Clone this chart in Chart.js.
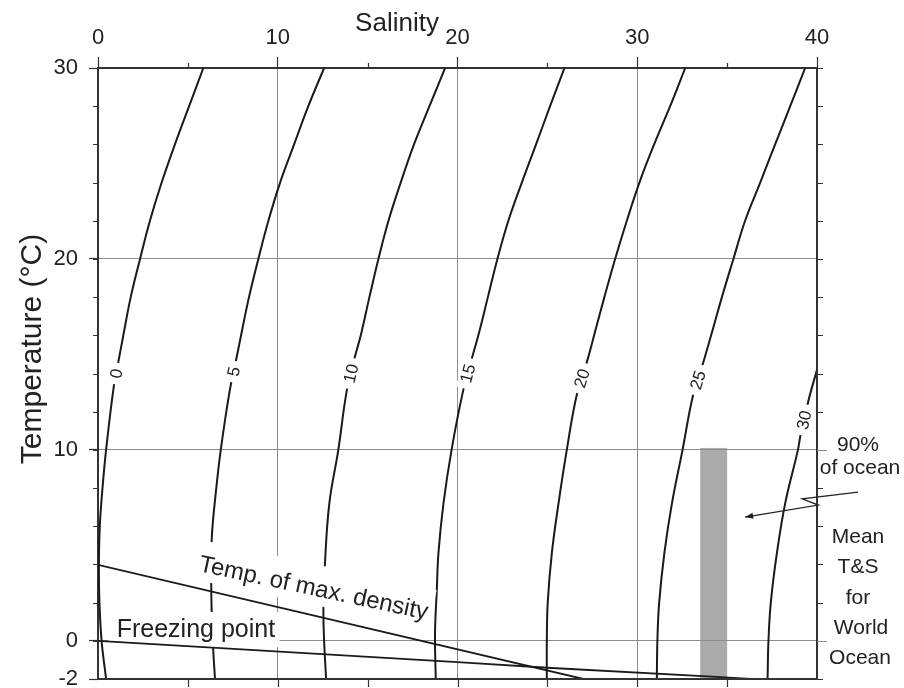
<!DOCTYPE html>
<html><head><meta charset="utf-8">
<script src="https://cdn.jsdelivr.net/npm/chart.js@4.4.1/dist/chart.umd.min.js"></script>
<style>html,body{margin:0;padding:0;background:#fff;}#wrap{width:904px;height:688px;}</style>
</head><body><div id="wrap"><canvas id="c" width="904" height="688"></canvas></div>
<script>
// ---------- DATA ----------
// Sigma-t isopleths: salinity (S) at each temperature (T, °C)
const sigmaLevels = ['0','5','10','15','20','25','30'];
const sig0_T  = [30,28,26,24,22,20,18,16,14.6,13.4,10,8,6,4,2,0,-2];
const sig0_S  = [5.86,5.07,4.28,3.54,2.89,2.34,1.82,1.41,1.13,0.89,0.45,0.25,0.10,0.05,0.08,0.20,0.45];
const sig5_T  = [30,28,26,24,22,20,18,16,14.6,13,10,7.9,5.4,3.1,1.7,-0.3,-2];
const sig5_S  = [12.58,11.70,10.91,10.13,9.48,8.92,8.40,7.96,7.66,7.31,6.83,6.57,6.33,6.30,6.32,6.40,6.51];
const sig10_T = [30,28,26,24,22,20,18,16,14.9,13.1,10,7.2,4.1,1.7,0,-2];
const sig10_S = [19.31,18.44,17.58,16.84,16.16,15.60,15.10,14.62,14.30,13.84,13.37,12.87,12.63,12.54,12.58,12.69];
const sig15_T = [30,28,26,24,22,20,18,16,14.6,13,10,7.2,4.6,2.7,0.4,-2];
const sig15_S = [25.95,25.15,24.37,23.58,22.83,22.22,21.69,21.16,20.74,20.29,19.67,19.22,18.94,18.85,18.75,18.79];
const sig20_T = [30,28,26,24,22,20,18,16,14.7,12.9,10,7.2,4.6,2,0,-2];
const sig20_S = [32.67,31.83,30.94,30.12,29.42,28.77,28.17,27.60,27.23,26.64,26.08,25.62,25.25,25.02,24.97,24.97];
const sig25_T = [30,28,26,24,22,20,18,16,14.6,12.8,10,7.2,4.6,2,0,-2];
const sig25_S = [39.34,38.51,37.67,36.84,36.00,35.35,34.71,34.11,33.68,33.09,32.52,31.93,31.51,31.22,31.12,31.09];
const sig30_T = [14.2,12.6,10.7,10,7.2,4.6,2,0,-2];
const sig30_S = [40.0,39.53,39.07,38.94,38.23,37.77,37.43,37.30,37.25];
// Temperature at which each isopleth label sits
const labelT = [14.0,14.1,14.0,14.0,13.75,13.66,11.57];
// Temperature of maximum density and freezing point lines
const tmd_S = [0,12.5,27.0];
const tmd_T = [3.98,1.21,-2.0];
const frz_S = [0,20,25,34.4,36.3];
const frz_T = [0,-1.12,-1.41,-1.89,-2.0];
// Mean T&S box for world ocean (90% of ocean)
const box_S = [33.5,35.0];
const box_T = [-2,10.1];
// Arrow pointing at the box
const arrow_S = [42.28,39.18,40.07,36.0];
const arrow_T = [7.79,7.43,7.11,6.48];
// Axis ticks
const xTickLabels = [0,10,20,30,40];
const xGrid = [10,20,30];
const xMinor = [5,15,25,35];
const yTickLabels = [-2,0,10,20,30];
const yGrid = [0,10,20];
const yMinor = [-2,0,2,4,6,8,10,12,14,16,18,20,22,24,26,28,30];

// ---------- CHART ----------
const FONT = '"Liberation Sans", Arial, Helvetica, sans-serif';
const INK = '#1a1a1a';
const curvesT = [sig0_T,sig5_T,sig10_T,sig15_T,sig20_T,sig25_T,sig30_T];
const curvesS = [sig0_S,sig5_S,sig10_S,sig15_S,sig20_S,sig25_S,sig30_S];
const pts = (S,T) => S.map((s,i)=>({x:s,y:T[i]}));

const datasets = curvesS.map((S,i)=>({
  label:'σt '+sigmaLevels[i], data:pts(S,curvesT[i]), order:2,
  borderColor:INK, borderWidth:2, pointRadius:0, tension:0.4, showLine:true, fill:false
}));
datasets.push({label:'Temp. of max. density', data:pts(tmd_S,tmd_T), order:0,
  borderColor:INK, borderWidth:1.8, pointRadius:0, tension:0, showLine:true});
datasets.push({label:'Freezing point', data:pts(frz_S,frz_T), order:0,
  borderColor:INK, borderWidth:1.8, pointRadius:0, tension:0, showLine:true});

function interpS(S,T,t){
  for(let i=0;i<T.length-1;i++){
    const a=T[i], b=T[i+1];
    if((t<=a && t>=b)||(t>=a && t<=b)){ const f=(t-a)/(b-a); return S[i]+f*(S[i+1]-S[i]); }
  }
  return S[S.length-1];
}

let masked=false;
function drawMasksAndLabels(chart){
  const {ctx, scales:{x,y}} = chart;
  ctx.save();
  // contour labels
  ctx.font = '17px '+FONT;
  curvesS.forEach((S,i)=>{
    const T=curvesT[i], t=labelT[i];
    const px=x.getPixelForValue(interpS(S,T,t)), py=y.getPixelForValue(t);
    const p1x=x.getPixelForValue(interpS(S,T,t+0.8)), p1y=y.getPixelForValue(t+0.8);
    const p2x=x.getPixelForValue(interpS(S,T,t-0.8)), p2y=y.getPixelForValue(t-0.8);
    const ang=Math.atan2(p1y-p2y,p1x-p2x);
    const w=ctx.measureText(sigmaLevels[i]).width;
    ctx.save(); ctx.translate(px,py); ctx.rotate(ang);
    ctx.fillStyle='#fff'; ctx.fillRect(-w/2-6,-8,w+12,16);
    ctx.fillStyle='#222'; ctx.textAlign='center'; ctx.textBaseline='middle';
    ctx.fillText(sigmaLevels[i],0,1);
    ctx.restore();
  });
  // Freezing point text
  ctx.font='25px '+FONT;
  const fx=116.7, fy=637;
  const fw=ctx.measureText('Freezing point').width;
  ctx.fillStyle='#fff'; ctx.fillRect(fx-8.5,fy-25,fw+13,35);
  ctx.fillStyle='#222'; ctx.textAlign='left'; ctx.textBaseline='alphabetic';
  ctx.fillText('Freezing point',fx,fy);
  // Temp. of max. density text
  ctx.font='24px '+FONT;
  const tw=ctx.measureText('Temp. of max. density').width;
  ctx.save(); ctx.translate(198,571); ctx.rotate(12*Math.PI/180);
  ctx.fillStyle='#fff'; ctx.fillRect(-4,-31,tw+8,40);
  ctx.fillStyle='#222'; ctx.fillText('Temp. of max. density',0,0);
  ctx.restore();
  ctx.restore();
}

const figPlugin = {
  id:'fig',
  beforeDraw(chart){
    masked=false;
    const {ctx, scales:{x,y}} = chart;
    ctx.save(); ctx.fillStyle='#aaaaaa';
    const x0=x.getPixelForValue(box_S[0]), x1=x.getPixelForValue(box_S[1]);
    const y0=y.getPixelForValue(box_T[1]), y1=y.getPixelForValue(box_T[0]);
    ctx.fillRect(x0,y0,x1-x0,y1-y0); ctx.restore();
  },
  beforeDatasetDraw(chart,args){
    if(masked || chart.data.datasets[args.index].order!==0) return;
    masked=true; drawMasksAndLabels(chart);
  },
  afterDraw(chart){
    const {ctx, chartArea:a, scales:{x,y}} = chart;
    ctx.save();
    ctx.strokeStyle='#333'; ctx.lineWidth=2;
    ctx.beginPath(); ctx.moveTo(a.right,a.top-1); ctx.lineTo(a.right,a.bottom+1);
    ctx.moveTo(a.left-1,a.bottom); ctx.lineTo(a.right+1,a.bottom); ctx.stroke();
    ctx.lineWidth=1.2;
    ctx.beginPath();
    yMinor.forEach(v=>{ const py=Math.round(y.getPixelForValue(v))+0.5;
      ctx.moveTo(a.left-5,py); ctx.lineTo(a.left,py);
      ctx.moveTo(a.right,py); ctx.lineTo(a.right+6,py); });
    xMinor.forEach(v=>{ const px=Math.round(x.getPixelForValue(v))+0.5;
      ctx.moveTo(px,a.top-5); ctx.lineTo(px,a.top); });
    xMinor.concat(xGrid).forEach(v=>{ const px=Math.round(x.getPixelForValue(v))+0.5;
      ctx.moveTo(px,a.bottom); ctx.lineTo(px,a.bottom+8); });
    ctx.stroke();
    // gridline extensions to the right
    ctx.strokeStyle='#8c8c8c'; ctx.lineWidth=1; ctx.beginPath();
    [0,10].forEach(v=>{ const py=Math.round(y.getPixelForValue(v))+0.5;
      ctx.moveTo(a.right,py); ctx.lineTo(a.right+10,py); });
    ctx.stroke();
    // arrow
    ctx.strokeStyle='#222'; ctx.lineWidth=1.3; ctx.beginPath();
    arrow_S.forEach((s,i)=>{ const px=x.getPixelForValue(s), py=y.getPixelForValue(arrow_T[i]);
      i?ctx.lineTo(px,py):ctx.moveTo(px,py); });
    ctx.stroke();
    const n=arrow_S.length;
    const ex=x.getPixelForValue(arrow_S[n-1]), ey=y.getPixelForValue(arrow_T[n-1]);
    const bx=x.getPixelForValue(arrow_S[n-2]), by=y.getPixelForValue(arrow_T[n-2]);
    const ang=Math.atan2(ey-by,ex-bx);
    ctx.fillStyle='#222'; ctx.beginPath();
    ctx.moveTo(ex,ey);
    ctx.lineTo(ex-8*Math.cos(ang)+3*Math.sin(ang), ey-8*Math.sin(ang)-3*Math.cos(ang));
    ctx.lineTo(ex-8*Math.cos(ang)-3*Math.sin(ang), ey-8*Math.sin(ang)+3*Math.cos(ang));
    ctx.closePath(); ctx.fill();
    // right-hand notes
    ctx.fillStyle='#222'; ctx.font='21px '+FONT; ctx.textAlign='center'; ctx.textBaseline='middle';
    [['90%',858,445],['of ocean',860,468],['Mean',858,537],['T&S',858,567],['for',858,598],['World',861,628],['Ocean',860,658]]
      .forEach(([t,px,py])=>ctx.fillText(t,px,py));
    // axis titles
    ctx.font='26px '+FONT; ctx.textBaseline='alphabetic';
    ctx.fillText('Salinity',397,31);
    ctx.save(); ctx.translate(41,349); ctx.rotate(-Math.PI/2);
    ctx.font='30px '+FONT; ctx.fillText('Temperature (°C)',0,0);
    ctx.restore();
    ctx.restore();
  }
};

const noPad = s => { s.paddingTop=0; s.paddingBottom=0; s.paddingLeft=0; s.paddingRight=0; };

new Chart(document.getElementById('c'), {
  type:'scatter',
  data:{datasets},
  options:{
    responsive:false, animation:false, devicePixelRatio:1,
    layout:{padding:{left:0,top:0,right:87,bottom:9}},
    plugins:{legend:{display:false}, tooltip:{enabled:false}, title:{display:false}},
    scales:{
      x:{type:'linear', position:'top', min:0, max:40,
        afterBuildTicks:s=>{ s.ticks = xTickLabels.map(v=>({value:v})); },
        afterFit:s=>{ s.height=68; noPad(s); },
        ticks:{font:{family:FONT,size:22}, color:'#222', padding:6, autoSkip:false, maxRotation:0, callback:v=>String(v)},
        grid:{color:c=>xGrid.includes(c.tick && c.tick.value)?'#8c8c8c':'rgba(0,0,0,0)', lineWidth:1, tickLength:11, tickColor:'#333', tickWidth:1.2},
        border:{display:true, color:'#333', width:2}
      },
      y:{type:'linear', position:'left', min:-2, max:30,
        afterBuildTicks:s=>{ s.ticks = yTickLabels.map(v=>({value:v})); },
        afterFit:s=>{ s.width=98; noPad(s); },
        ticks:{font:{family:FONT,size:22}, color:'#222', padding:11, autoSkip:false, callback:v=>String(v)},
        grid:{color:c=>yGrid.includes(c.tick && c.tick.value)?'#8c8c8c':'rgba(0,0,0,0)', lineWidth:1, tickLength:9, tickColor:'#333', tickWidth:1.2},
        border:{display:true, color:'#333', width:2}
      }
    }
  },
  plugins:[figPlugin]
});
</script></body></html>
